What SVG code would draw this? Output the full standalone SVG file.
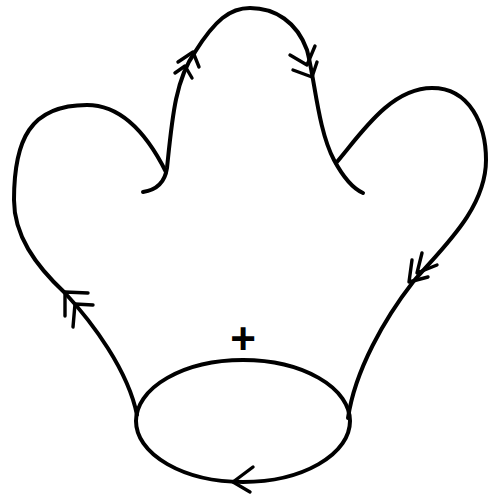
<svg xmlns="http://www.w3.org/2000/svg" width="494" height="497" viewBox="0 0 494 497">
<style>
.c{fill:none;stroke:#000;stroke-width:4;stroke-linecap:round;stroke-linejoin:round}
.a{fill:none;stroke:#000;stroke-width:3.4;stroke-linecap:round;stroke-linejoin:round}
.t{font-family:"Liberation Sans",Arial,sans-serif;font-size:44px;font-weight:bold;fill:#000}
</style>
<rect width="494" height="497" fill="#fff"/>
<g id="contour">
<path class="c" d="M143,192 C156,190 165,182 167,168 C172,120 175,80 195,52 C215,20 230,8 250,8 C275,8 297,22 307,50 C315,80 318,130 334,160 C342,175 352,188 363,193"/>
<path class="c" d="M166,172 C150,140 125,105 87,105 C30,105 14,140 14,200 C14,235 35,265 65,293 C92,322 128,370 137,415"/>
<path class="c" d="M336,163 C360,135 390,88 432,88 C470,88 486,125 486,160 C486,210 440,250 413,282 C385,318 355,370 348,418"/>
<ellipse id="cycle" class="c" cx="243" cy="421" rx="107" ry="61"/>
</g>
<g id="arrows">
<polyline class="a" points="178,62 193,52 199,67"/>
<polyline class="a" points="175,73 185,66 192,78"/>
<polyline class="a" points="290,55 307,65 315,46"/>
<polyline class="a" points="293,70 312,77 317,62"/>
<polyline class="a" points="88,293 65,292 65,316"/>
<polyline class="a" points="93,305 75,304 73,327"/>
<polyline class="a" points="412,260 409,282 428,277"/>
<polyline class="a" points="422,253 417,273 437,265"/>
<polyline class="a" points="253,467 233,482 250,492"/>
</g>
<text class="t" x="243" y="354" text-anchor="middle">+</text>
</svg>
